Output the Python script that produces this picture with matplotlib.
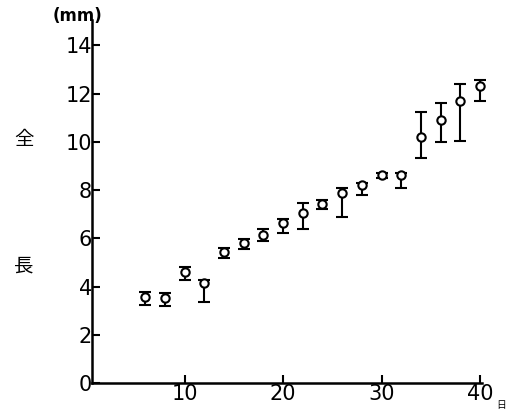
import matplotlib
matplotlib.use("Agg")
import matplotlib.pyplot as plt
import numpy as np

# days after hatching vs total length (mm)
days = [6, 8, 10, 12, 14, 16, 18, 20, 22, 24, 26, 28, 30, 32, 34, 36, 38, 40]
mean_len = [3.57, 3.53, 4.6, 4.15, 5.44, 5.8, 6.14, 6.62, 7.05, 7.43, 7.88, 8.2, 8.63, 8.63, 10.2, 10.9, 11.7, 12.3]
upper = [3.78, 3.75, 4.8, 4.27, 5.6, 5.95, 6.4, 6.8, 7.45, 7.6, 8.1, 8.3, 8.7, 8.7, 11.24, 11.6, 12.4, 12.55]
lower = [3.24, 3.2, 4.27, 3.36, 5.17, 5.55, 5.9, 6.2, 6.4, 7.2, 6.9, 7.8, 8.5, 8.1, 9.34, 10.0, 10.05, 11.7]
yticks = [0, 2, 4, 6, 8, 10, 12, 14]
xticks = [10, 20, 30, 40]

W, H = 511, 417
fig = plt.figure(figsize=(W / 100, H / 100), dpi=100)
ax = fig.add_axes([92 / W, 1 - 383 / H, (482 - 92) / W, (383 - 20) / H])

m = np.array(mean_len)
yerr = [m - np.array(lower), np.array(upper) - m]
eb = ax.errorbar(days, mean_len, yerr=yerr, fmt="o", mfc="white", mec="black",
                 mew=1.5, ms=6, ecolor="black", elinewidth=1.5, capsize=4, capthick=1.5)
eb[0].set_clip_on(False)
for art in list(eb[1]) + list(eb[2]):
    art.set_clip_on(False)

ax.set_xlim(0.6, 40.2)
ax.set_ylim(0, 15.05)
ax.set_xticks(xticks)
ax.set_yticks(yticks)
for s in ["top", "right"]:
    ax.spines[s].set_visible(False)
for s in ["left", "bottom"]:
    ax.spines[s].set_linewidth(1.8)
ax.tick_params(direction="in", length=6, width=1.5, labelsize=15)
ax.tick_params(axis="y", pad=0)
ax.tick_params(axis="x", pad=1)

jp = ["Noto Sans CJK JP", "DejaVu Sans"]
fig.text(24 / W, 1 - 140 / H, "全", family=jp, fontsize=14, ha="center", va="center")
fig.text(24 / W, 1 - 266 / H, "長", family=jp, fontsize=14, ha="center", va="center")
fig.text(77 / W, 1 - 16 / H, "(mm)", fontsize=12, fontweight="bold", ha="center", va="center")
fig.text(501 / W, 1 - 405 / H, "日", family=jp, fontsize=7, ha="center", va="center")

fig.savefig("out.png", dpi=100)
